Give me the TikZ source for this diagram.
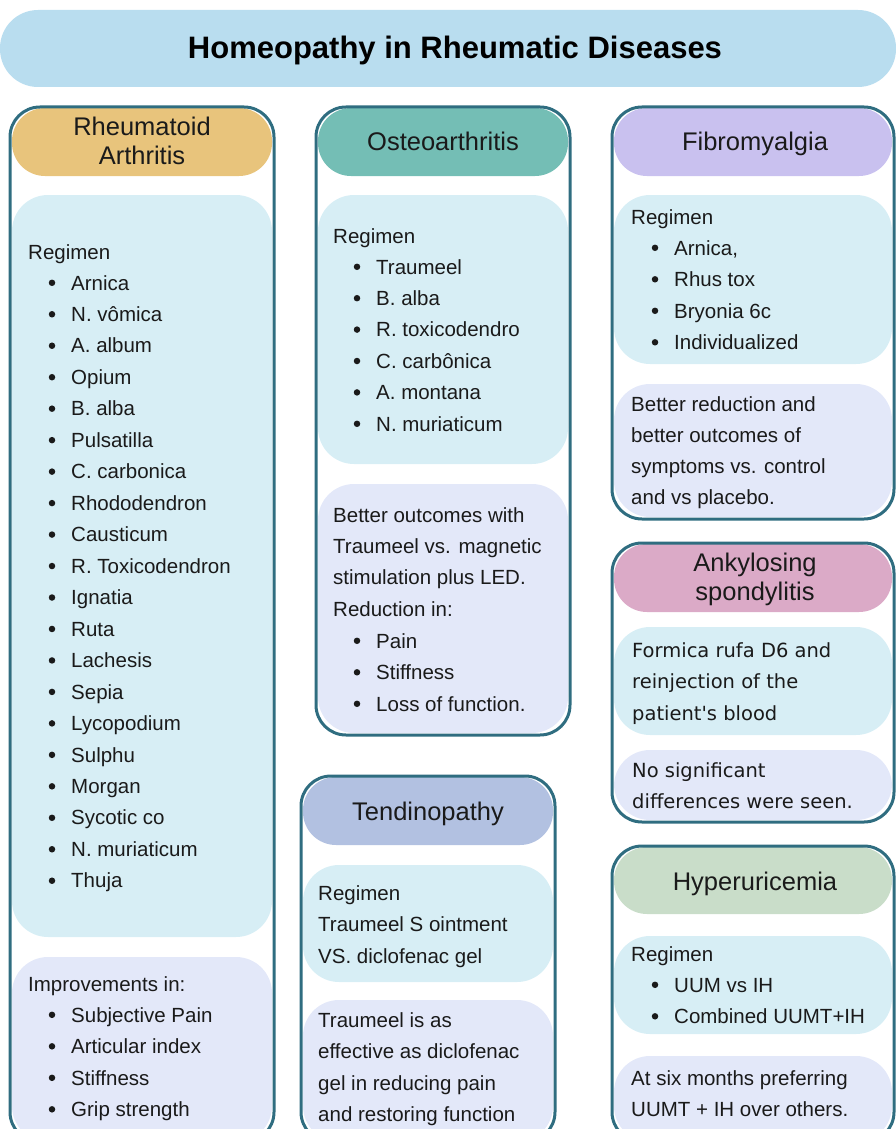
\documentclass[tikz,border=0pt]{standalone}
\usepackage{fontspec}
\setmainfont{Liberation Sans}
\newfontfamily\dejavu{DejaVu Sans}
\definecolor{titleC}{HTML}{B9DDEF}
\definecolor{frameC}{HTML}{2F6D80}
\definecolor{raC}{HTML}{E8C47C}
\definecolor{oaC}{HTML}{74BEB5}
\definecolor{tdC}{HTML}{B2C1E1}
\definecolor{fmC}{HTML}{C9C1EF}
\definecolor{asC}{HTML}{DBAAC7}
\definecolor{huC}{HTML}{C9DDC9}
\definecolor{regC}{HTML}{D7EEF5}
\definecolor{resC}{HTML}{E3E8F9}
\definecolor{txtC}{HTML}{1A1A1A}
\tikzset{
  panel/.style={draw=frameC, line width=3pt, rounded corners=30pt},
  headbox/.style={rounded corners=33pt},
  regbox/.style={fill=regC, rounded corners=36pt},
  resbox/.style={fill=resC, rounded corners=36pt},
  txt/.style={anchor=base west, inner sep=0pt, text=txtC, font=\fontsize{20.5}{24}\selectfont},
  dtxt/.style={anchor=base west, inner sep=0pt, text=txtC, font=\dejavu\fontsize{19.5}{24}\selectfont},
  bt/.style={circle, fill=txtC, minimum size=6.5pt, inner sep=0pt},
  hd/.style={align=center, inner sep=0pt, text=txtC, font=\fontsize{25.5}{29}\selectfont},
  hd1/.style={anchor=base, inner sep=0pt, text=txtC, font=\fontsize{25.5}{29}\selectfont},
}
% bullets: #1 prefix, #2 bullet x, #3 text x, #4 first baseline, #5 step, #6 list
\newcommand\bullist[6]{%
  \foreach \t [count=\i] in {#6} {
    \node[bt] (#1b\i) at (#2, {#4+(\i-1)*#5-7.2}) {};
    \node[txt] (#1\i) at (#3, {#4+(\i-1)*#5}) {\t};
  }}
% plain lines: #1 prefix, #2 style, #3 x, #4 first baseline, #5 step, #6 list
\newcommand\plainlines[6]{%
  \foreach \t [count=\i] in {#6} {
    \node[#2] (#1\i) at (#3, {#4+(\i-1)*#5}) {\t};
  }}
\begin{document}
\begin{tikzpicture}[x=1pt,y=-1pt]
\useasboundingbox (0,0) rectangle (896,1129);
% title
\fill[titleC, rounded corners=38pt] (0,10) rectangle (896,87);
\node[anchor=base, inner sep=0pt, text=black, font=\bfseries\fontsize{31}{36}\selectfont] (title) at (455,59) {Homeopathy in Rheumatic Diseases};

% ---------- Rheumatoid Arthritis ----------
\fill[raC, headbox] (12,108) rectangle (272,176);
\fill[regbox] (12,195) rectangle (272,937);
\fill[resbox] (12,957) rectangle (272,1142);
\draw[panel] (10,107) rectangle (274,1142);
\node[hd] (raH) at (142,141) {Rheumatoid\\Arthritis};
\node[txt] (raReg) at (28,259) {Regimen};
\bullist{ra}{52}{71}{290}{31.47}{Arnica, N. vômica, A. album, Opium, B. alba, Pulsatilla, C. carbonica, Rhododendron, Causticum, R. Toxicodendron, Ignatia, Ruta, Lachesis, Sepia, Lycopodium, Sulphu, Morgan, Sycotic co, N. muriaticum, Thuja}
\node[txt] (raImp) at (28,991) {Improvements in:};
\bullist{raI}{52}{71}{1022}{31.5}{Subjective Pain, Articular index, Stiffness, Grip strength}

% ---------- Osteoarthritis ----------
\fill[oaC, headbox] (318,108) rectangle (568,176);
\fill[regbox] (318,195) rectangle (568,464);
\fill[resbox] (318,484) rectangle (568,733);
\draw[panel] (316,107) rectangle (570,735);
\node[hd1] (oaH) at (443,150) {Osteoarthritis};
\node[txt] (oaReg) at (333,243) {Regimen};
\bullist{oa}{357}{376}{274}{31.4}{Traumeel, B. alba, R. toxicodendro, C. carbônica, A. montana, N. muriaticum}
\plainlines{oaR}{txt}{333}{522}{31.35}{Better outcomes with, Traumeel vs. magnetic, stimulation plus LED., Reduction in:}
\bullist{oaP}{357}{376}{648}{31.5}{Pain, Stiffness, Loss of function.}

% ---------- Tendinopathy ----------
\fill[tdC, headbox] (303,777) rectangle (553,845);
\fill[regbox] (303,865) rectangle (553,982);
\fill[resbox] (303,1000) rectangle (553,1142);
\draw[panel] (301,776) rectangle (555,1142);
\node[hd1] (tdH) at (428,820) {Tendinopathy};
\plainlines{tdR}{txt}{318}{900}{31.5}{Regimen, Traumeel S ointment, VS. diclofenac gel}
\plainlines{tdS}{txt}{318}{1027}{31.5}{Traumeel is as, effective as diclofenac, gel in reducing pain, and restoring function}

% ---------- Fibromyalgia ----------
\fill[fmC, headbox] (614,108) rectangle (892,176);
\fill[regbox] (614,195) rectangle (892,364);
\fill[resbox] (614,384) rectangle (892,517);
\draw[panel] (612,107) rectangle (894,519);
\node[hd1] (fmH) at (755,150) {Fibromyalgia};
\node[txt] (fmReg) at (631,224) {Regimen};
\bullist{fm}{655}{674}{255}{31.5}{{Arnica,}, Rhus tox, Bryonia 6c, Individualized}
\plainlines{fmR}{txt}{631}{411}{31}{Better reduction and, better outcomes of, symptoms vs. control, and vs placebo.}

% ---------- Ankylosing spondylitis ----------
\fill[asC, headbox] (614,544) rectangle (892,612);
\fill[regbox] (614,627) rectangle (892,735);
\fill[resbox] (614,750) rectangle (892,820);
\draw[panel] (612,543) rectangle (894,822);
\node[hd] (asH) at (755,579) {Ankylosing\\spondylitis};
\plainlines{asR}{dtxt}{632}{657}{31.5}{Formica rufa D6 and, reinjection of the, patient's blood}
\plainlines{asS}{dtxt}{632}{777}{31}{No significant, differences were seen.}

% ---------- Hyperuricemia ----------
\fill[huC, headbox] (614,847) rectangle (892,914);
\fill[regbox] (614,936) rectangle (892,1034);
\fill[resbox] (614,1056) rectangle (892,1142);
\draw[panel] (612,846) rectangle (894,1142);
\node[hd1] (huH) at (755,890) {Hyperuricemia};
\node[txt] (huReg) at (631,961) {Regimen};
\bullist{hu}{655}{674}{992}{31.5}{UUM vs IH, Combined UUMT+IH}
\plainlines{huR}{txt}{631}{1085}{31.5}{At six months preferring, UUMT + IH over others.}
\end{tikzpicture}
\end{document}
